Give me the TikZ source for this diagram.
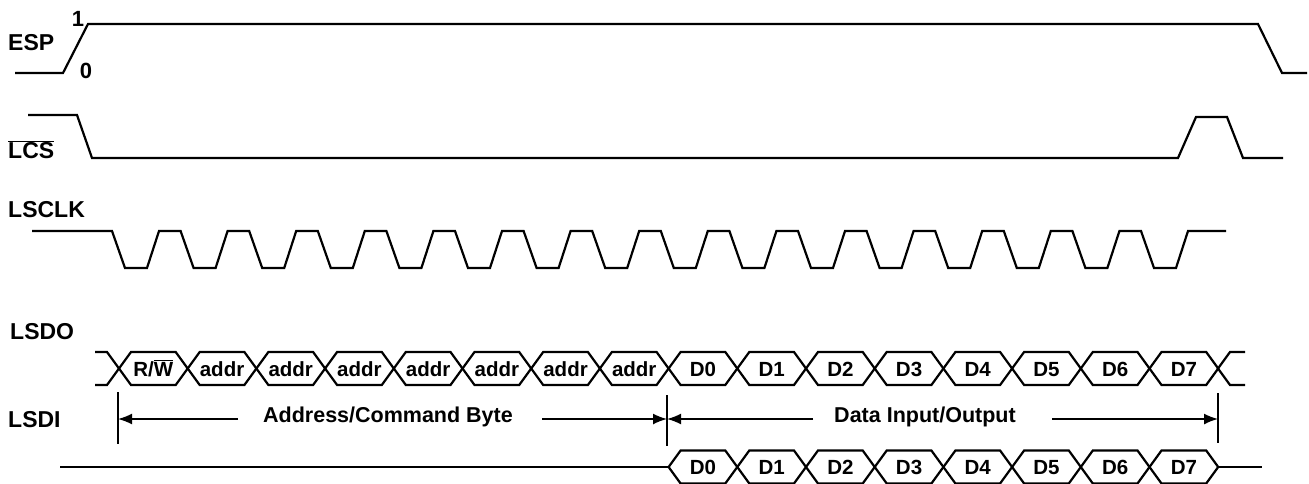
\documentclass[tikz,border=0pt]{standalone}
\usepackage{fontspec}
\setmainfont{Liberation Sans}
\usetikzlibrary{arrows.meta,calc}
\tikzset{>={Latex[length=14pt,width=11pt]}}
\tikzset{
  wave/.style={line width=2.2pt,line join=miter},
  siglabel/.style={anchor=west,inner sep=0pt,font=\fontsize{23}{26}\selectfont\bfseries},
  spantext/.style={inner sep=0pt,font=\fontsize{21.5}{24}\selectfont\bfseries},
  celltext/.style={inner sep=0pt,text height=15pt,text depth=0pt,
    font=\fontsize{20.5}{24}\selectfont\bfseries},
  span/.style={line width=1.6pt},
  bar/.style={line width=2pt}
}

\begin{document}
\begin{tikzpicture}[x=1pt,y=-1pt]
  \useasboundingbox (0,0) rectangle (1309,484);
  % signal names
  \node[celltext,font=\fontsize{22}{24}\selectfont\bfseries] (one) at (78,19) {1};
  \node[celltext,font=\fontsize{22}{24}\selectfont\bfseries] (zero) at (86,71) {0};
  \node[siglabel] (esp) at (8,43) {ESP};
  \node[siglabel] (lcs) at (8,150) {$\overline{\mbox{LCS}}$};
  \node[siglabel] (lsclk) at (8,210) {LSCLK};
  \node[siglabel] (lsdo) at (10,332) {LSDO};
  \node[siglabel] (lsdi) at (8,420) {LSDI};

  % ESP and LCS
  \draw[wave] (15,73) -- (63,73) -- (88,24) -- (1258,24) -- (1282,73) -- (1307,73);
  \draw[wave] (28,115) -- (77,115) -- (92,158) -- (1178,158) -- (1196,117)
    -- (1227,117) -- (1243,158) -- (1283,158);

  % clock
  \draw[wave] (32,231) \foreach \k in {0,...,15} {
      -- ({112+68.6*\k},231) -- ++(13,37) -- ++(22,0) -- ++(12,-37) } -- (1226,231);

  % LSDO bus
  \draw[wave] (95,352) -- (107,352) -- (119,368.5) -- (107,385) -- (95,385);
  \foreach \lbl [count=\k from 0] in {{R/$\overline{\mbox{W}}$},addr,addr,addr,addr,addr,addr,addr,D0,D1,D2,D3,D4,D5,D6,D7} {
    \pgfmathsetmacro{\xa}{119+68.7*\k}
    \pgfmathsetmacro{\xb}{119+68.7*(\k+1)}
    \draw[wave] (\xa,368.5) -- ++(12,-16.5) -- (\xb-12,352) -- (\xb,368.5)
      -- (\xb-12,385) -- (\xa+12,385) -- cycle;
    \node[celltext] (do\k) at ({(\xa+\xb)/2},368.5) {\lbl};
  }
  \draw[wave] (1245,352) -- (1230,352) -- (1218,368.5) -- (1230,385) -- (1245,385);

  % LSDI bus
  \draw[wave] (60,467) -- (668.6,467);
  \foreach \lbl [count=\k from 8] in {D0,D1,D2,D3,D4,D5,D6,D7} {
    \pgfmathsetmacro{\xa}{119+68.7*\k}
    \pgfmathsetmacro{\xb}{119+68.7*(\k+1)}
    \draw[wave] (\xa,467) -- ++(12,-16.5) -- (\xb-12,450.5) -- (\xb,467)
      -- (\xb-12,483.5) -- (\xa+12,483.5) -- cycle;
    \node[celltext] (di\k) at ({(\xa+\xb)/2},467) {\lbl};
  }
  \draw[wave] (1218,467) -- (1262,467);

  % byte spans
  \coordinate (b0) at (118,419);
  \coordinate (b1) at (667,419);
  \coordinate (b2) at (1218,419);
  \draw[bar] (118,392) -- (118,444);
  \draw[bar] (667,395) -- (667,446);
  \draw[bar] (1218,393) -- (1218,443);
  \node[spantext] (addrtxt) at (388,417) {Address/Command Byte};
  \node[spantext] (datatxt) at (925,417) {Data Input/Output};
  \draw[span,->] (238,419) -- (b0);
  \draw[span,->] (542,419) -- (b1);
  \draw[span,->] (813,419) -- (b1);
  \draw[span,->] (1052,419) -- (b2);
\end{tikzpicture}
\end{document}
